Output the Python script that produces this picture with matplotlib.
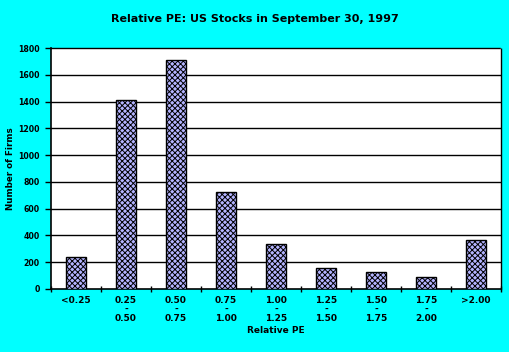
import matplotlib
matplotlib.use("Agg")
import matplotlib.pyplot as plt
import numpy as np

categories = ["<0.25", "0.25\n-\n0.50", "0.50\n-\n0.75", "0.75\n-\n1.00", "1.00\n-\n1.25",
              "1.25\n-\n1.50", "1.50\n-\n1.75", "1.75\n-\n2.00", ">2.00"]
counts = [238, 1415, 1710, 722, 335, 155, 125, 88, 365]
yticks = [0, 200, 400, 600, 800, 1000, 1200, 1400, 1600, 1800]

plt.rcParams['font.family'] = ['DejaVu Sans']
plt.rcParams['hatch.color'] = '#0000ff'
plt.rcParams['hatch.linewidth'] = 0.7

fig = plt.figure(figsize=(5.10, 3.52), dpi=100, facecolor='#00ffff')
ax = fig.add_axes([51/510, 1-289/352, 450/510, 241/352])
ax.set_facecolor('white')

x = np.arange(len(categories))
ax.bar(x, counts, width=0.4, facecolor='#b4b4ff', edgecolor='black', linewidth=1.0,
       hatch='xxxxxx', zorder=3)

ax.set_xlim(-0.5, len(categories) - 0.5)
ax.set_ylim(0, 1800)
ax.set_yticks(yticks)
ax.set_yticklabels([str(v) for v in yticks], fontsize=5.6, fontweight='bold')
for v in yticks[1:-1]:
    ax.axhline(v, color='black', linewidth=1.0, zorder=1)

ax.set_xticks(x)
ax.set_xticklabels(categories, fontsize=6.5, fontweight='bold', linespacing=1.0)
ax.tick_params(axis='x', which='major', length=0, pad=5)
ax.set_xticks(np.arange(-0.5, len(categories) - 0.4, 1.0), minor=True)
ax.tick_params(axis='x', which='minor', length=5, direction='inout', width=1)
ax.tick_params(axis='y', length=4, direction='out', width=1, pad=4)

for s in ['left', 'bottom']:
    ax.spines[s].set_linewidth(1.2)
for s in ['top', 'right']:
    ax.spines[s].set_linestyle((0, (1, 1)))
    ax.spines[s].set_linewidth(1.0)

ax.set_ylabel("Number of Firms", fontsize=6.3, fontweight='bold')
ax.yaxis.set_label_coords((15 - 51) / 450, 0.5)
ax.set_xlabel("Relative PE", fontsize=6.5, fontweight='bold', labelpad=2)
fig.text(0.5, 1-19/352, "Relative PE: US Stocks in September 30, 1997", ha='center', va='center',
         fontsize=8, fontweight='bold')

fig.savefig("out.png", dpi=100, facecolor=fig.get_facecolor())
